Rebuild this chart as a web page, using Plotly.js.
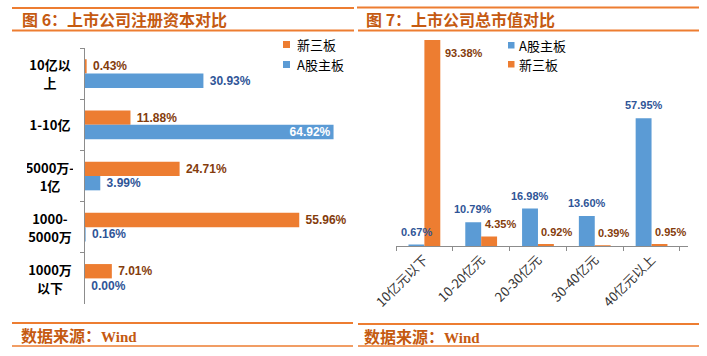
<!DOCTYPE html>
<html>
<head>
<meta charset="utf-8">
<script src="https://cdn.plot.ly/plotly-3.0.1.min.js"></script>
<style>html,body{margin:0;padding:0;background:#fff;}#chart{width:707px;height:356px;}</style>
</head>
<body>
<div id="chart"></div>
<script>
// ---- data ----
const leftCats = ["10亿以上", "1-10亿", "5000万-1亿", "1000-5000万", "1000万以下"];
const leftTickLines = [["10亿以", "上"], ["1-10亿"], ["5000万-", "1亿"], ["1000-", "5000万"], ["1000万", "以下"]];
const leftNeeq = [0.43, 11.88, 24.71, 55.96, 7.01];
const leftAShare = [30.93, 64.92, 3.99, 0.16, 0.00];

const rightCats = ["10亿元以下", "10-20亿元", "20-30亿元", "30-40亿元", "40亿元以上"];
const rightAShare = [0.67, 10.79, 16.98, 13.60, 57.95];
const rightNeeq = [93.38, 4.35, 0.92, 0.39, 0.95];

const seriesNames = ["A股主板", "新三板"];
const titles = ["图 6：上市公司注册资本对比", "图 7：上市公司总市值对比"];
const sourceText = "数据来源：";
const sourceName = "Wind";

// ---- styles ----
const BLUE = "#5B9BD5", ORANGE = "#ED7D31";
const BLUE_TXT = "#2F5597", ORANGE_TXT = "#843C0C";
const HEAD = "#C55A11", LINE = "#ED7D31", AXIS = "#8c8c8c";
const CJK = "Noto Sans CJK SC";
const W = 707, H = 356;
const px = x => x / W, py = y => 1 - y / H;
const leftMax = 70, rightMax = 95;

function leftBar(name, vals, color, txtColor) {
  return {
    type: "bar", orientation: "h", name: name,
    x: vals, y: leftCats, xaxis: "x", yaxis: "y",
    marker: {color: color},
    texttemplate: "\u00a0%{x:.2f}%",
    textposition: vals.map(v => v > 60 ? "inside" : "outside"),
    insidetextanchor: "end", constraintext: "none", cliponaxis: false,
    textfont: {family: "Liberation Sans", size: 12, weight: "bold"},
    outsidetextfont: {family: "Liberation Sans", size: 12, weight: "bold", color: txtColor},
    insidetextfont: {family: "Liberation Sans", size: 12, weight: "bold", color: "#ffffff"},
    hoverinfo: "skip"
  };
}

const traces = [
  leftBar(seriesNames[1], leftNeeq, ORANGE, ORANGE_TXT),
  leftBar(seriesNames[0], leftAShare, BLUE, BLUE_TXT),
  {
    type: "bar", name: seriesNames[0],
    x: rightCats, y: rightAShare, xaxis: "x2", yaxis: "y2",
    marker: {color: BLUE}, cliponaxis: false, hoverinfo: "skip"
  },
  {
    type: "bar", name: seriesNames[1],
    x: rightCats, y: rightNeeq, xaxis: "x2", yaxis: "y2",
    marker: {color: ORANGE}, cliponaxis: false, hoverinfo: "skip"
  }
];

const BARGAP = 0.44;
const half = (1 - BARGAP) / 4; // centre offset of each bar in a pair

function hline(x0, x1, y, w) {
  return {type: "line", xref: "paper", yref: "paper", x0: px(x0), x1: px(x1), y0: py(y), y1: py(y),
          line: {color: LINE, width: w}};
}
function square(x0, y0, size, color) {
  return {type: "rect", xref: "paper", yref: "paper", x0: px(x0), x1: px(x0 + size), y0: py(y0), y1: py(y0 + size),
          fillcolor: color, line: {width: 0}};
}
function txt(x, y, text, opts) {
  return Object.assign({xref: "paper", yref: "paper", x: px(x), y: py(y), text: text, showarrow: false,
          xanchor: "left", yanchor: "middle"}, opts || {});
}

const shapes = [
  hline(12, 354, 8, 2), hline(12, 354, 30.5, 2),
  hline(357, 699, 7.5, 2), hline(358, 699, 30.5, 2),
  hline(12, 353, 323, 2), hline(12, 353, 346, 1.5),
  hline(358, 699, 324, 2), hline(358, 699, 346, 1.5),
  square(283, 41, 7, ORANGE), square(283, 61, 7, BLUE),
  square(508, 42, 6.5, BLUE), square(508, 61, 6.5, ORANGE)
];

const headFont = {family: CJK, size: 16, weight: "bold", color: HEAD};
const legFont = {family: CJK, size: 13, color: "#000"};
const srcHtml = sourceText + "<span style='font-family:Liberation Serif;font-size:15px'>" + sourceName + "</span>";
const annotations = [
  txt(20, 19, titles[0], {font: headFont}),
  txt(364, 19, titles[1], {font: headFont}),
  txt(19, 335, srcHtml, {font: headFont}),
  txt(362, 336, srcHtml, {font: headFont}),
  txt(295, 44.5, seriesNames[1], {font: legFont}),
  txt(295, 64.5, seriesNames[0], {font: legFont}),
  txt(517, 45, seriesNames[0], {font: legFont}),
  txt(517, 64, seriesNames[1], {font: legFont})
];

// left category labels: each line its own text, centred in a common box
leftTickLines.forEach((lines, i) => {
  lines.forEach((line, k) => {
    const shift = lines.length === 1 ? 0 : (k === 0 ? 9 : -9);
    annotations.push({xref: "paper", yref: "y", x: px(75), y: i, text: line, showarrow: false,
      xanchor: "right", yanchor: "middle", align: "center", width: 46, yshift: shift,
      font: {family: CJK, size: 13, weight: "bold", color: "#000"}});
  });
});

// right value labels
const lblFont = c => ({family: "Liberation Sans", size: 11, weight: "bold", color: c});
rightAShare.forEach((v, i) => {
  annotations.push({xref: "x2", yref: "y2", x: i - half, y: v, text: v.toFixed(2) + "%", showarrow: false,
    xanchor: "center", yanchor: "bottom", yshift: 5, font: lblFont(BLUE_TXT)});
});
rightNeeq.forEach((v, i) => {
  const tall = v > rightMax * 0.9;
  annotations.push({xref: "x2", yref: "y2", x: tall ? i + 2 * half : i + half, y: v,
    text: v.toFixed(2) + "%", showarrow: false,
    xanchor: tall ? "left" : "center", yanchor: tall ? "top" : "bottom",
    xshift: tall ? 3 : 11, yshift: tall ? -5 : 4, font: lblFont(ORANGE_TXT)});
});

const layout = {
  width: W, height: H, margin: {l: 0, r: 0, t: 0, b: 0},
  paper_bgcolor: "#ffffff", plot_bgcolor: "rgba(0,0,0,0)",
  showlegend: false, barmode: "group", bargap: BARGAP, bargroupgap: 0,
  xaxis: {domain: [px(85), px(353)], range: [0, leftMax], anchor: "y", visible: false, fixedrange: true},
  yaxis: {domain: [py(304), py(48)], type: "category", autorange: "reversed", anchor: "x",
          showline: true, linecolor: AXIS, linewidth: 1, ticks: "outside", tickson: "boundaries",
          ticklen: 4, tickcolor: AXIS, showticklabels: false, showgrid: false, zeroline: false},
  xaxis2: {domain: [px(396), px(688)], type: "category", anchor: "y2",
           showline: true, linecolor: AXIS, linewidth: 1, ticks: "outside", tickson: "boundaries",
           ticklen: 4, tickcolor: AXIS, tickangle: -45, showgrid: false,
           tickfont: {family: CJK, size: 13, color: "#333"}},
  yaxis2: {domain: [py(246), py(246 - rightMax * 2.205)], range: [0, rightMax], anchor: "x2", visible: false},
  shapes: shapes,
  annotations: annotations
};

Plotly.newPlot("chart", traces, layout, {staticPlot: true, displayModeBar: false});
</script>
</body>
</html>
